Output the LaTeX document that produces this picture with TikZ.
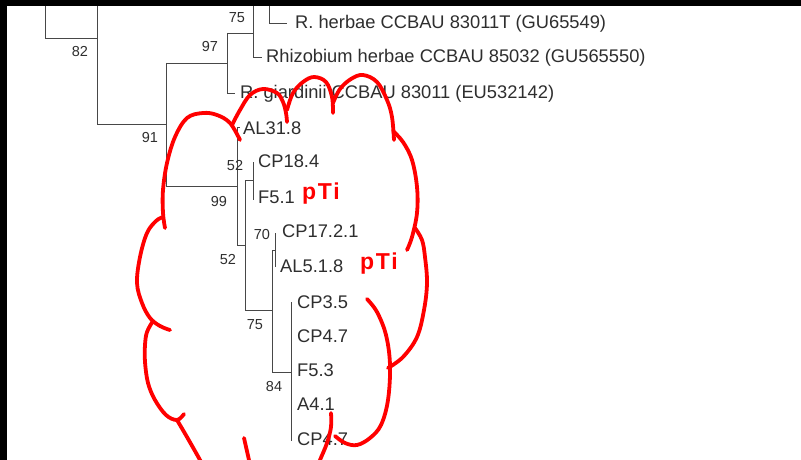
\documentclass[tikz,border=0pt]{standalone}
\usepackage{fontspec}
\setmainfont{Liberation Sans}
\begin{document}
\begin{tikzpicture}[x=1pt,y=-1pt,
  branch/.style={draw=black!72, line width=0.9pt},
  leaf/.style={anchor=base west, inner sep=0pt, text=black!82,
    font=\fontsize{18.3}{20}\selectfont},
  boot/.style={anchor=center, inner sep=0pt, text=black!82,
    font=\fontsize{14.5}{16}\selectfont},
  plasmid/.style={anchor=base west, inner sep=0pt, text=red,
    font=\fontsize{23}{26}\selectfont\bfseries},
  cloudline/.style={draw=red, line width=3.8pt, line cap=round, line join=round}]
\useasboundingbox (0,0) rectangle (801,460);
\fill[white] (0,0) rectangle (801,460);

% ---- internal nodes of the tree ----
\coordinate (r0) at (45,38);
\coordinate (n82) at (97,124);
\coordinate (n91) at (166,124);
\coordinate (n97) at (227,63);
\coordinate (n75a) at (253,33);
\coordinate (n99) at (237,186);
\coordinate (n52b) at (245,245);
\coordinate (n52a) at (253,180);
\coordinate (n75b) at (272,310);
\coordinate (n70) at (275,250);
\coordinate (n84) at (291,372);

% ---- branches ----
\draw[branch] (45,0) -- (r0) -- (97,38);
\draw[branch] (97,0) -- (n82) -- (n91);
\draw[branch] (166,63) -- (166,186);
\draw[branch] (n91 |- n97) -- (n97);
\draw[branch] (227,33) -- (227,93) -- (235,93);
\draw[branch] (n97 |- n75a) -- (n75a);
\draw[branch] (253,0) -- (253,57) -- (262,57);
\draw[branch] (269,0) -- (269,23) -- (287,23);
\draw[branch] (n91 |- n99) -- (n99);
\draw[branch] (237,127) -- (240,127);
\draw[branch] (237,127) -- (237,245);
\draw[branch] (n99 |- n52b) -- (n52b);
\draw[branch] (245,180) -- (245,310);
\draw[branch] (n52b |- n52a) -- (n52a);
\draw[branch] (253,162) -- (253,200);
\draw[branch] (n52b |- n75b) -- (n75b);
\draw[branch] (272,250) -- (272,372);
\draw[branch] (n75b |- n70) -- (n70);
\draw[branch] (275,233) -- (275,267);
\draw[branch] (n75b |- n84) -- (n84);
\draw[branch] (291,302) -- (291,441);

% ---- leaf labels ----
\node[leaf] (l1) at (295,28.5) {R. herbae CCBAU 83011T (GU65549)};
\node[leaf] (l2) at (266,63) {Rhizobium herbae CCBAU 85032 (GU565550)};
\node[leaf] (l3) at (240,99) {R. giardinii CCBAU 83011 (EU532142)};
\node[leaf] (l4) at (243,134) {AL31.8};
\node[leaf] (l5) at (258,167.5) {CP18.4};
\node[leaf] (l6) at (258,203) {F5.1};
\node[leaf] (l7) at (282,237.5) {CP17.2.1};
\node[leaf] (l8) at (280,272.5) {AL5.1.8};
\node[leaf] (l9) at (297,308.5) {CP3.5};
\node[leaf] (l10) at (297,342.5) {CP4.7};
\node[leaf] (l11) at (297,376.5) {F5.3};
\node[leaf] (l12) at (297,410.5) {A4.1};
\node[leaf] (l13) at (297,445.5) {CP4.7};

% ---- bootstrap values ----
\node[boot] (b82) at (80,52) {82};
\node[boot] (b75a) at (237,18) {75};
\node[boot] (b97) at (210,47) {97};
\node[boot] (b91) at (150,138) {91};
\node[boot] (b52a) at (235,166) {52};
\node[boot] (b99) at (219,202) {99};
\node[boot] (b70) at (262,235) {70};
\node[boot] (b52b) at (228,260) {52};
\node[boot] (b75b) at (255,325) {75};
\node[boot] (b84) at (274,387) {84};

% ---- hand-drawn cloud ----
\begin{scope}
\clip (0,0) rectangle (801,460);
% left side
\draw[cloudline] plot[smooth, tension=0.6] coordinates {(240,140) (230,123) (217,115) (203,113) (187,118) (175,137) (167,163) (163,190) (163,213) (165,228)};
\draw[cloudline] plot[smooth, tension=0.6] coordinates {(163,217) (156,221) (147,233) (140,257) (137,283) (142,303) (150,318) (160,326) (170,330)};
\draw[cloudline] plot[smooth, tension=0.6] coordinates {(153,321) (147,332) (145,345) (145,362) (148,383) (155,400) (166,415) (177,420) (184,414)};
\draw[cloudline] plot[smooth, tension=0.6] coordinates {(177,420) (187,437) (200,460) (205,470)};
% top bumps
\draw[cloudline] plot[smooth, tension=0.6] coordinates {(232,125) (240,110) (250,95) (263,89) (277,93) (283,102) (286,113) (287,122)};
\draw[cloudline] plot[smooth, tension=0.6] coordinates {(287,110) (293,93) (303,82) (314,77) (326,82) (332,97) (333,113)};
\draw[cloudline] plot[smooth, tension=0.6] coordinates {(333,103) (340,89) (351,79) (363,75) (377,82) (387,100) (392,117) (394,140)};
% right side
\draw[cloudline] plot[smooth, tension=0.6] coordinates {(393,131) (403,142) (412,160) (417,187) (417,213) (412,237) (407,250)};
\draw[cloudline] plot[smooth, tension=0.6] coordinates {(415,228) (422,240) (425,257) (427,283) (424,310) (417,337) (403,357) (388,368)};
\draw[cloudline] plot[smooth, tension=0.6] coordinates {(367,299) (377,312) (386,335) (390,365) (388,400) (381,425) (370,438) (357,445) (345,443) (335,436)};
% bottom
\draw[cloudline] plot[smooth, tension=0.6] coordinates {(331,413) (331,427) (327,443) (320,460) (316,470)};
\draw[cloudline] (244,438) -- (249,460);
\end{scope}

% ---- plasmid labels ----
\node[plasmid] (p1) at (302,199) {p\kern1.5pt T\kern1.5pt i};
\node[plasmid] (p2) at (360,269) {p\kern1.5pt T\kern1.5pt i};

% ---- dark frame strips ----
\fill[black] (0,0) rectangle (801,6);
\fill[black] (0,0) rectangle (7,460);
\end{tikzpicture}
\end{document}
